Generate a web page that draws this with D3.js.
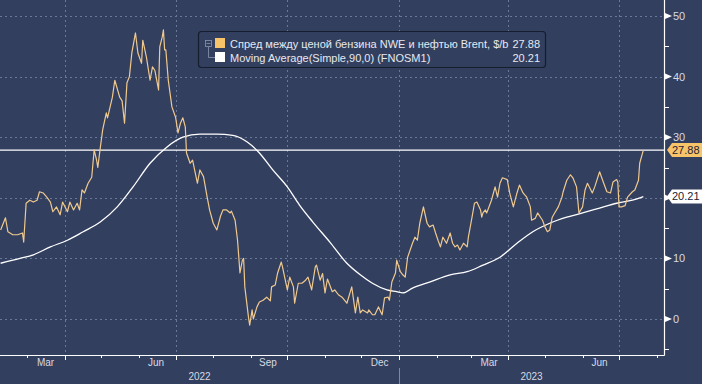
<!DOCTYPE html>
<html><head><meta charset="utf-8">
<script src="https://cdn.jsdelivr.net/npm/d3@7"></script>
<style>
html,body{margin:0;padding:0;background:#323f5f;}
svg{display:block;}
text{font-family:"Liberation Sans",Arial,sans-serif;}
</style></head>
<body>
<script>
// ---------- DATA ----------
const spreadDates = ["2022-02-07","2022-02-11","2022-02-13","2022-02-17","2022-02-21","2022-02-25","2022-02-26","2022-02-28","2022-03-03","2022-03-06","2022-03-09","2022-03-11","2022-03-14","2022-03-17","2022-03-20","2022-03-22","2022-03-25","2022-03-28","2022-03-30","2022-04-03","2022-04-05","2022-04-08","2022-04-11","2022-04-13","2022-04-15","2022-04-17","2022-04-20","2022-04-23","2022-04-25","2022-04-27","2022-04-28","2022-04-30","2022-05-02","2022-05-05","2022-05-06","2022-05-10","2022-05-12","2022-05-16","2022-05-18","2022-05-20","2022-05-22","2022-05-24","2022-05-26","2022-05-29","2022-05-31","2022-06-03","2022-06-04","2022-06-07","2022-06-10","2022-06-12","2022-06-14","2022-06-17","2022-06-18","2022-06-20","2022-06-21","2022-06-22","2022-06-23","2022-06-25","2022-06-28","2022-07-01","2022-07-03","2022-07-05","2022-07-07","2022-07-09","2022-07-10","2022-07-13","2022-07-15","2022-07-19","2022-07-21","2022-07-24","2022-07-27","2022-07-29","2022-08-01","2022-08-04","2022-08-07","2022-08-09","2022-08-12","2022-08-15","2022-08-16","2022-08-19","2022-08-21","2022-08-23","2022-08-25","2022-08-26","2022-08-27","2022-08-30","2022-08-31","2022-09-02","2022-09-03","2022-09-06","2022-09-08","2022-09-11","2022-09-14","2022-09-17","2022-09-18","2022-09-21","2022-09-23","2022-09-26","2022-09-27","2022-10-01","2022-10-03","2022-10-06","2022-10-07","2022-10-10","2022-10-13","2022-10-16","2022-10-18","2022-10-21","2022-10-24","2022-10-25","2022-10-28","2022-10-30","2022-11-01","2022-11-03","2022-11-07","2022-11-09","2022-11-12","2022-11-15","2022-11-17","2022-11-19","2022-11-23","2022-11-26","2022-11-28","2022-11-30","2022-12-02","2022-12-06","2022-12-07","2022-12-10","2022-12-12","2022-12-15","2022-12-18","2022-12-20","2022-12-23","2022-12-24","2022-12-26","2022-12-29","2022-12-30","2023-01-02","2023-01-04","2023-01-06","2023-01-08","2023-01-12","2023-01-14","2023-01-16","2023-01-18","2023-01-21","2023-01-24","2023-01-26","2023-01-29","2023-01-31","2023-02-02","2023-02-04","2023-02-06","2023-02-09","2023-02-12","2023-02-14","2023-02-16","2023-02-18","2023-02-20","2023-02-23","2023-02-26","2023-02-27","2023-03-02","2023-03-04","2023-03-06","2023-03-09","2023-03-10","2023-03-11","2023-03-13","2023-03-14","2023-03-15","2023-03-18","2023-03-21","2023-03-23","2023-03-25","2023-03-27","2023-03-31","2023-04-02","2023-04-05","2023-04-08","2023-04-10","2023-04-13","2023-04-16","2023-04-19","2023-04-20","2023-04-23","2023-04-25","2023-04-29","2023-05-01","2023-05-03","2023-05-05","2023-05-07","2023-05-09","2023-05-12","2023-05-15","2023-05-16","2023-05-19","2023-05-22","2023-05-24","2023-05-27","2023-05-29","2023-06-01","2023-06-03","2023-06-05","2023-06-09","2023-06-11","2023-06-15","2023-06-18","2023-06-21","2023-06-24","2023-06-26","2023-06-29","2023-06-30","2023-07-01","2023-07-03","2023-07-06","2023-07-08","2023-07-12","2023-07-14","2023-07-17","2023-07-18","2023-07-21"];
const spreadValues = [14.7,16.7,14.4,13.9,13.9,14.2,12.7,19.1,19.6,19.3,19.6,21.0,20.8,20.1,19.3,17.7,18.5,17.2,19.3,17.7,19.3,18.0,19.1,18.0,21.3,20.8,22.4,23.4,27.9,26.2,25.0,28.2,31.2,34.0,33.2,36.6,39.4,36.6,36.0,32.3,39.0,40.0,43.9,47.2,43.9,42.2,46.0,43.2,39.4,41.6,41.0,37.8,44.9,46.5,47.7,44.4,44.4,39.4,35.0,33.3,30.7,32.3,33.2,31.7,27.4,25.7,26.2,22.4,24.6,23.5,20.1,18.0,15.8,14.7,17.0,18.0,18.0,17.5,17.8,16.3,13.0,7.6,9.7,10.0,5.3,0.3,-1.0,1.5,0.0,2.0,2.8,3.1,3.6,3.0,5.3,5.6,7.6,9.4,8.6,4.8,6.9,5.3,2.6,5.9,5.9,6.4,6.9,4.8,8.6,8.9,6.4,7.5,4.3,6.6,4.5,4.8,4.0,3.6,3.1,2.6,5.3,1.0,3.6,1.0,1.5,1.0,1.5,0.7,0.7,2.0,0.7,3.5,3.6,3.1,6.1,7.6,9.7,7.8,7.3,6.9,10.2,12.5,13.5,13.0,15.8,18.5,15.8,15.2,15.5,14.2,13.0,11.9,13.5,12.5,14.2,12.5,11.9,12.2,11.4,12.5,11.9,13.5,16.8,19.1,19.3,18.0,16.8,17.5,18.0,17.5,18.0,19.6,21.8,20.1,22.4,23.3,23.0,20.8,18.5,20.8,22.1,20.8,20.1,18.5,16.3,16.6,17.5,16.3,15.2,14.4,14.7,16.8,17.5,18.5,20.1,21.0,22.9,23.8,23.3,21.8,17.5,18.5,21.3,22.4,20.8,21.8,24.3,22.6,21.0,20.8,22.6,23.0,22.6,18.5,18.5,18.7,20.1,21.0,21.3,22.9,25.7,27.88];

const maDates = ["2022-02-07","2022-02-23","2022-03-06","2022-03-20","2022-04-03","2022-04-16","2022-04-30","2022-05-14","2022-05-27","2022-06-10","2022-06-24","2022-07-07","2022-07-21","2022-08-04","2022-08-17","2022-08-29","2022-09-08","2022-09-19","2022-10-01","2022-10-11","2022-10-22","2022-11-05","2022-11-19","2022-11-30","2022-12-10","2022-12-22","2022-12-30","2023-01-04","2023-01-12","2023-01-26","2023-02-12","2023-02-26","2023-03-11","2023-03-25","2023-04-08","2023-04-21","2023-05-05","2023-05-19","2023-06-01","2023-06-15","2023-06-29","2023-07-12","2023-07-21"];
const maValues = [9.2,10.0,10.6,11.9,13.0,14.4,16.0,18.5,21.8,25.7,28.4,30.0,30.5,30.5,30.3,29.2,27.4,24.6,21.8,18.8,16.0,12.7,9.2,7.3,5.9,4.8,4.5,4.3,5.1,6.1,7.3,7.8,8.9,10.2,12.5,14.4,15.8,16.8,17.5,18.3,19.1,19.6,20.21];

const lastSpread = 27.88;
const lastMA = 20.21;

const yMajorTicks = [0,10,20,30,40,50];
const yMinorTicks = [-5,5,15,25,35,45];
const quarterTicks = ["2022-04-01","2022-07-01","2022-10-01","2023-01-01","2023-04-01","2023-07-01"];
const monthTicks = ["2022-03-01","2022-05-01","2022-06-01","2022-08-01","2022-09-01","2022-11-01","2022-12-01","2023-02-01","2023-03-01","2023-05-01","2023-06-01","2023-08-01"];
const monthLabelDates = ["2022-03-16","2022-06-15","2022-09-15","2022-12-16","2023-03-16","2023-06-15"];
const monthLabels = ["Mar","Jun","Sep","Dec","Mar","Jun"];
const yearLabels = ["2022","2023"];
const yearStarts = ["2022-01-01","2023-01-01","2024-01-01"];

const legendNames = ["Спред между ценой бензина NWE и нефтью Brent, $/b","Moving Average(Simple,90,0) (FNOSM1)"];
const legendValues = ["27.88","20.21"];

// ---------- CHART ----------
const W = 702, H = 384;
const parse = d3.utcParse("%Y-%m-%d");
const bg = "#323f5f";
const gridColor = "#6a7898";
const spreadColor = "#f0c98e";
const legendSpreadColor = "#f7c46a";
const axisText = "#d6dae3";

const svg = d3.select("body").append("svg").attr("width", W).attr("height", H);
svg.append("rect").attr("width", W).attr("height", H).attr("fill", bg);

const plotRight = 664, plotBottom = 355;
const x = d3.scaleUtc()
  .domain([new Date(Date.UTC(2022,1,6,12)), new Date(Date.UTC(2023,7,7))])
  .range([0, plotRight]);
const y = d3.scaleLinear().domain([-5.94, 52.64]).range([plotBottom, 0]);

// grid
const grid = svg.append("g");
grid.selectAll("line.h").data(yMajorTicks).join("line")
  .attr("x1", 0).attr("x2", plotRight)
  .attr("y1", d => Math.round(y(d)) + 0.5).attr("y2", d => Math.round(y(d)) + 0.5)
  .attr("stroke", gridColor).attr("stroke-width", 1).attr("stroke-dasharray", "2,3");
grid.selectAll("line.v").data(quarterTicks).join("line")
  .attr("x1", d => Math.round(x(parse(d))) + 0.5).attr("x2", d => Math.round(x(parse(d))) + 0.5)
  .attr("y1", 0).attr("y2", plotBottom)
  .attr("stroke", gridColor).attr("stroke-width", 1).attr("stroke-dasharray", "2,3");

// last value line
svg.append("line")
  .attr("x1", 0).attr("x2", plotRight)
  .attr("y1", y(lastSpread)).attr("y2", y(lastSpread))
  .attr("stroke", "#ffffff").attr("stroke-width", 1.3);

// lines
const spread = spreadDates.map((d, i) => ({date: parse(d), v: spreadValues[i]}));
const ma = maDates.map((d, i) => ({date: parse(d), v: maValues[i]}));
const line = d3.line().x(d => x(d.date)).y(d => y(d.v));
const maLine = d3.line().x(d => x(d.date)).y(d => y(d.v)).curve(d3.curveMonotoneX);

svg.append("path").datum(ma).attr("d", maLine)
  .attr("fill", "none").attr("stroke", "#ffffff").attr("stroke-width", 1.3);
svg.append("path").datum(spread).attr("d", line)
  .attr("fill", "none").attr("stroke", spreadColor).attr("stroke-width", 1.2)
  .attr("stroke-linejoin", "round");

// axes lines
svg.append("line").attr("x1", plotRight + 0.5).attr("x2", plotRight + 0.5)
  .attr("y1", 0).attr("y2", plotBottom + 0.5).attr("stroke", "#ffffff").attr("stroke-width", 1.2);
svg.append("line").attr("x1", 0).attr("x2", plotRight + 0.5)
  .attr("y1", plotBottom + 0.5).attr("y2", plotBottom + 0.5).attr("stroke", "#ffffff").attr("stroke-width", 1.2);

// right axis ticks (labels hidden where a value tag covers them, as in the reference)
const tagValues = [lastSpread, lastMA];
const labelTicks = yMajorTicks.filter(t => tagValues.every(v => Math.abs(y(t) - y(v)) > 10));
const ry = svg.append("g");
ry.selectAll("path.tri").data(yMajorTicks).join("path")
  .attr("d", d => { const yy = y(d); return `M${plotRight+1},${yy-3}L${plotRight+8},${yy}L${plotRight+1},${yy+3}Z`; })
  .attr("fill", "#ffffff");
ry.selectAll("text").data(labelTicks).join("text")
  .attr("x", plotRight + 9).attr("y", d => y(d)).attr("dy", "0.36em")
  .attr("fill", axisText).attr("font-size", 11).text(d => d);
ry.selectAll("line.minor").data(yMinorTicks).join("line")
  .attr("x1", plotRight).attr("x2", plotRight + 5)
  .attr("y1", d => Math.round(y(d)) + 0.5).attr("y2", d => Math.round(y(d)) + 0.5)
  .attr("stroke", "#ffffff").attr("stroke-width", 1);

// value tags
function tag(v, fill, txt) {
  const yy = y(v);
  svg.append("path")
    .attr("d", `M${plotRight+3},${yy}L${plotRight+8},${yy-7}L${W},${yy-7}L${W},${yy+7}L${plotRight+8},${yy+7}Z`)
    .attr("fill", fill);
  svg.append("text").attr("x", plotRight + 8).attr("y", yy).attr("dy", "0.36em")
    .attr("fill", "#1c2233").attr("font-size", 11).text(txt);
}
tag(lastSpread, legendSpreadColor, legendValues[0]);
tag(lastMA, "#ffffff", legendValues[1]);

// bottom axis ticks
const bx = svg.append("g");
bx.selectAll("line.q").data(quarterTicks).join("line")
  .attr("x1", d => Math.round(x(parse(d))) + 0.5).attr("x2", d => Math.round(x(parse(d))) + 0.5)
  .attr("y1", plotBottom).attr("y2", plotBottom + 5)
  .attr("stroke", "#ffffff").attr("stroke-width", 1);
bx.selectAll("line.m").data(monthTicks).join("line")
  .attr("x1", d => Math.round(x(parse(d))) + 0.5).attr("x2", d => Math.round(x(parse(d))) + 0.5)
  .attr("y1", plotBottom).attr("y2", plotBottom + 3)
  .attr("stroke", "#ffffff").attr("stroke-width", 1);
bx.selectAll("text.mon").data(monthLabelDates).join("text")
  .attr("x", d => x(parse(d))).attr("y", 366).attr("text-anchor", "middle")
  .attr("fill", axisText).attr("font-size", 10).text((d, i) => monthLabels[i]);
bx.selectAll("text.yr").data(yearLabels).join("text")
  .attr("x", (d, i) => (Math.max(0, x(parse(yearStarts[i]))) + Math.min(plotRight, x(parse(yearStarts[i+1])))) / 2)
  .attr("y", 380).attr("text-anchor", "middle")
  .attr("fill", axisText).attr("font-size", 10).text(d => d);
bx.append("line")
  .attr("x1", Math.round(x(parse(yearStarts[1]))) + 0.5).attr("x2", Math.round(x(parse(yearStarts[1]))) + 0.5)
  .attr("y1", 368).attr("y2", H).attr("stroke", "#7d88a3").attr("stroke-width", 1);

// legend
const lg = svg.append("g");
lg.append("rect").attr("x", 198.5).attr("y", 31.5).attr("width", 347).attr("height", 36).attr("rx", 3)
  .attr("fill", bg).attr("stroke", "#161d2e").attr("stroke-width", 1.2);
lg.append("rect").attr("x", 205.5).attr("y", 40.5).attr("width", 6).attr("height", 6)
  .attr("fill", "none").attr("stroke", "#8c96ae").attr("stroke-width", 0.8);
lg.append("line").attr("x1", 206.5).attr("x2", 210.5).attr("y1", 43.5).attr("y2", 43.5).attr("stroke", "#8c96ae").attr("stroke-width", 0.8);
lg.append("path").attr("d", "M208.5,47V57.5H215").attr("fill", "none").attr("stroke", "#8c96ae").attr("stroke-width", 0.8);
lg.append("rect").attr("x", 215).attr("y", 38).attr("width", 10).attr("height", 10).attr("fill", legendSpreadColor);
lg.append("rect").attr("x", 215).attr("y", 52).attr("width", 10).attr("height", 10).attr("fill", "#ffffff");
lg.selectAll("text.n").data(legendNames).join("text")
  .attr("x", 230).attr("y", (d, i) => 47.5 + i * 14)
  .attr("fill", "#e6e9ef").attr("font-size", 11).text(d => d);
lg.selectAll("text.v").data(legendValues).join("text")
  .attr("x", 540).attr("y", (d, i) => 47.5 + i * 14).attr("text-anchor", "end")
  .attr("fill", "#e6e9ef").attr("font-size", 11).text(d => d);
</script>
</body></html>
